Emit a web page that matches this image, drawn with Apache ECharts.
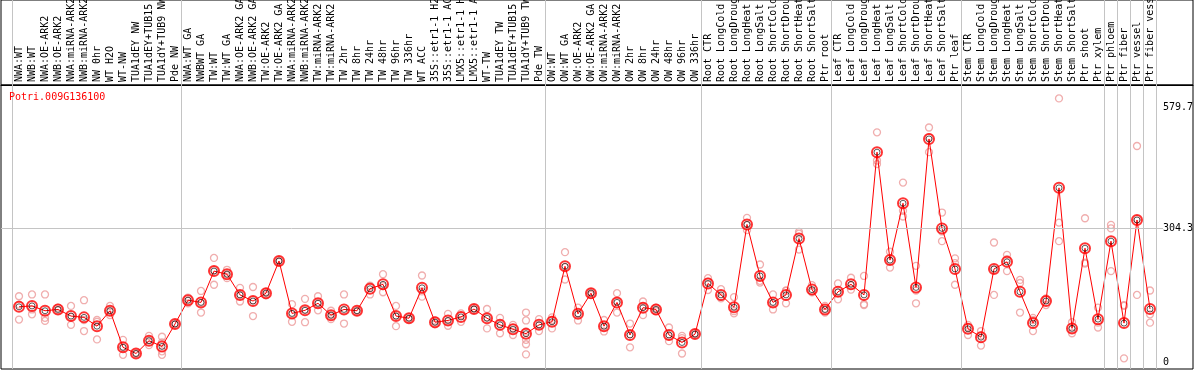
<!DOCTYPE html>
<html>
<head>
<meta charset="utf-8">
<script src="https://cdn.jsdelivr.net/npm/echarts@6/dist/echarts.min.js"></script>
<style>
html,body{margin:0;padding:0;background:#fff;}
#chart{width:1194px;height:370px;}
</style>
</head>
<body>
<div id="chart"></div>
<script>
const geneName = "Potri.009G136100";

const categories = [
  "NWA:WT","NWB:WT","NWA:OE-ARK2","NWB:OE-ARK2","NWA:miRNA-ARK2","NWB:miRNA-ARK2","NW 0hr","WT H2O","WT-NW",
  "TUA1dEY NW","TUA1dEY+TUB15 NW","TUA1dY+TUB9 NW","Pde NW",
  "NWA:WT GA","NWBWT GA","TW:WT","TW:WT GA","NWA:OE-ARK2 GA","NWB:OE-ARK2 GA","TW:OE-ARK2","TW:OE-ARK2 GA",
  "NWA:miRNA-ARK2","NWB:miRNA-ARK2","TW:miRNA-ARK2","TW:miRNA-ARK2",
  "TW 2hr","TW 8hr","TW 24hr","TW 48hr","TW 96hr","TW 336hr","WT ACC",
  "35S::etr1-1 H2O","35S::etr1-1 ACC","LMX5::etr1-1 H2O","LMX5::etr1-1 ACC","WT-TW",
  "TUA1dEY TW","TUA1dEY+TUB15 TW","TUA1dY+TUB9 TW","Pde TW",
  "OW:WT","OW:WT GA","OW:OE-ARK2","OW:OE-ARK2 GA","OW:miRNA-ARK2","OW:miRNA-ARK2",
  "OW 2hr","OW 8hr","OW 24hr","OW 48hr","OW 96hr","OW 336hr",
  "Root CTR","Root LongCold","Root LongDrought","Root LongHeat","Root LongSalt",
  "Root ShortCold","Root ShortDrought","Root ShortHeat","Root ShortSalt","Ptr root",
  "Leaf CTR","Leaf LongCold","Leaf LongDrought","Leaf LongHeat","Leaf LongSalt",
  "Leaf ShortCold","Leaf ShortDrought","Leaf ShortHeat","Leaf ShortSalt","Ptr leaf",
  "Stem CTR","Stem LongCold","Stem LongDrought","Stem LongHeat","Stem LongSalt",
  "Stem ShortCold","Stem ShortDrought","Stem ShortHeat","Stem ShortSalt","Ptr shoot",
  "Ptr xylem","Ptr phloem","Ptr fiber","Ptr vessel","Ptr fiber vessel"
];

const means = [
  126,128,117,120,105,102,82,117,34,20,49,36,87,
  141,136,207,200,153,139,157,230,111,118,134,107,120,117,167,177,105,100,169,91,95,103,121,100,85,75,65,85,
  92,218,110,157,82,136,62,124,120,62,45,64,
  179,153,125,313,196,136,153,281,165,120,
  160,177,153,477,232,361,170,507,304,212,
  76,57,212,228,160,89,139,396,77,259,
  98,275,89,323,121
];

const replicates = [
  [150,131,97],[154,120,109],[154,101,94],[124,118,119],[128,85,103],[141,71,96],[96,52,92],[128,107,117],
  [51,17,34],[20,19,21],[60,39,50],[58,45,25,17],[88,86,87],
  [147,140,134],[162,135,113],[237,209,176],[210,191,200],[169,138,153],[171,105,141],[160,157,152],[232,230,228],
  [132,110,92],[144,119,91],[150,134,118],[117,107,98],[154,118,88],[118,116,115],[173,174,154],[200,173,159],
  [128,105,82],[102,99,98],[197,161,149],[95,91,86],[110,93,83],[111,106,92],[123,121,119],[121,102,77],
  [101,88,66],[85,78,62],[113,95,70,51,41,18],[98,85,71],
  [102,96,77],[250,216,188],[124,110,95],[159,157,153],[96,81,70],[157,138,113],[88,64,34],[138,127,107],
  [124,120,116],[79,59,48],[60,55,20],[66,64,63],
  [191,183,164],[166,148,145],[148,116,111],[328,312,300],[222,185,181],[154,134,120],[162,163,134],[296,292,256],
  [175,162,159],[128,120,113],
  [179,158,143],[192,174,165],[196,132,130],[522,458,450],[251,230,215],[408,344,331],[219,163,134],[533,511,477],
  [340,297,275],[236,225,176],
  [85,80,62],[71,61,38],[272,211,153],[244,234,207],[187,180,113],[101,96,71],[145,142,130],[599,317,275],
  [91,75,66],[327,226,224],
  [124,90,79],[312,304,207],[130,128,9],[491,325,153],[163,109,90]
];

// category index where each group starts (plus end)
const groupStarts = [0, 13, 41, 53, 63, 73, 84, 85, 86, 87, 88];
const yTickLabels = [0, 304.3, 579.7];
const gridValue = 304.3;

const meanData = means.map((v, i) => [i, v]);
const repData = [];
replicates.forEach((arr, i) => arr.forEach(v => repData.push([i, v])));
const catIdx = categories.map((c, i) => i);

const mono = "DejaVu Sans Mono";
const xMin = -18 / 13, xMax = 87 + 43 / 13;
const sepColor = '#c4c4c4';

const chart = echarts.init(document.getElementById('chart'), null, {renderer: 'canvas'});
chart.setOption({
  animation: false,
  backgroundColor: '#fff',
  title: {
    text: geneName, left: 9, top: 92, padding: 0,
    textStyle: {color: '#ff0000', fontFamily: mono, fontSize: 10, fontWeight: 'normal'}
  },
  grid: [
    {
      left: 1, right: 1, top: 85, bottom: 1,
      outerBoundsMode: 'none', containLabel: false,
      show: true, borderColor: '#000', borderWidth: 1, backgroundColor: 'transparent'
    },
    {
      left: 1, right: 1, top: 0, height: 85,
      outerBoundsMode: 'none', containLabel: false,
      show: true, borderColor: '#000', borderWidth: 1, backgroundColor: 'transparent'
    }
  ],
  xAxis: [
    {
      type: 'value', gridIndex: 0, position: 'top',
      min: xMin, max: xMax,
      axisLine: {show: true, onZero: false, lineStyle: {color: '#000', width: 1}},
      axisTick: {show: false},
      splitLine: {show: false},
      axisLabel: {
        customValues: catIdx,
        rotate: -90, margin: 3,
        fontFamily: mono, fontSize: 10, color: '#000',
        formatter: v => categories[Math.round(v)] || ''
      }
    },
    {
      type: 'value', gridIndex: 1, min: xMin, max: xMax, show: false
    }
  ],
  yAxis: [
    {
      type: 'value', gridIndex: 0, position: 'right', offset: -36,
      min: -15.2, max: 629.5,
      axisLine: {show: false, onZero: false}, axisTick: {show: false}, splitLine: {show: false},
      axisLabel: {
        customValues: yTickLabels, margin: 6, align: 'left',
        fontFamily: mono, fontSize: 10, color: '#000',
        formatter: v => String(v)
      }
    },
    {
      type: 'value', gridIndex: 1, min: 0, max: 1, show: false
    }
  ],
  series: [
    {
      type: 'line', xAxisIndex: 0, yAxisIndex: 0, data: [], silent: true,
      markLine: {
        silent: true, symbol: 'none', animation: false,
        label: {show: false},
        lineStyle: {color: sepColor, width: 1, type: 'solid'},
        data: groupStarts.map(g => ({xAxis: g - 0.5}))
          .concat([[{coord: [xMin, gridValue]}, {coord: [categories.length, gridValue]}]])
      }
    },
    {
      type: 'line', xAxisIndex: 1, yAxisIndex: 1, data: [], silent: true,
      markLine: {
        silent: true, symbol: 'none', animation: false,
        label: {show: false},
        lineStyle: {color: sepColor, width: 1, type: 'solid'},
        data: groupStarts.map(g => ({xAxis: g - 0.5}))
      }
    },
    {
      type: 'scatter', data: repData, symbol: 'circle', symbolSize: 7, z: 3,
      itemStyle: {color: 'rgba(0,0,0,0)', borderColor: '#ec9a9a', borderWidth: 1.3}
    },
    {
      type: 'line', data: meanData, showSymbol: false, z: 4,
      lineStyle: {color: '#ff0000', width: 1}
    },
    {
      type: 'scatter', data: meanData, symbol: 'circle', symbolSize: 10, z: 5,
      itemStyle: {color: 'rgba(0,0,0,0)', borderColor: '#ff0000', borderWidth: 2}
    },
    {
      type: 'scatter', data: meanData, symbol: 'circle', symbolSize: 6, z: 6,
      itemStyle: {color: 'rgba(0,0,0,0)', borderColor: '#000', borderWidth: 0.8}
    }
  ]
});
</script>
</body>
</html>
